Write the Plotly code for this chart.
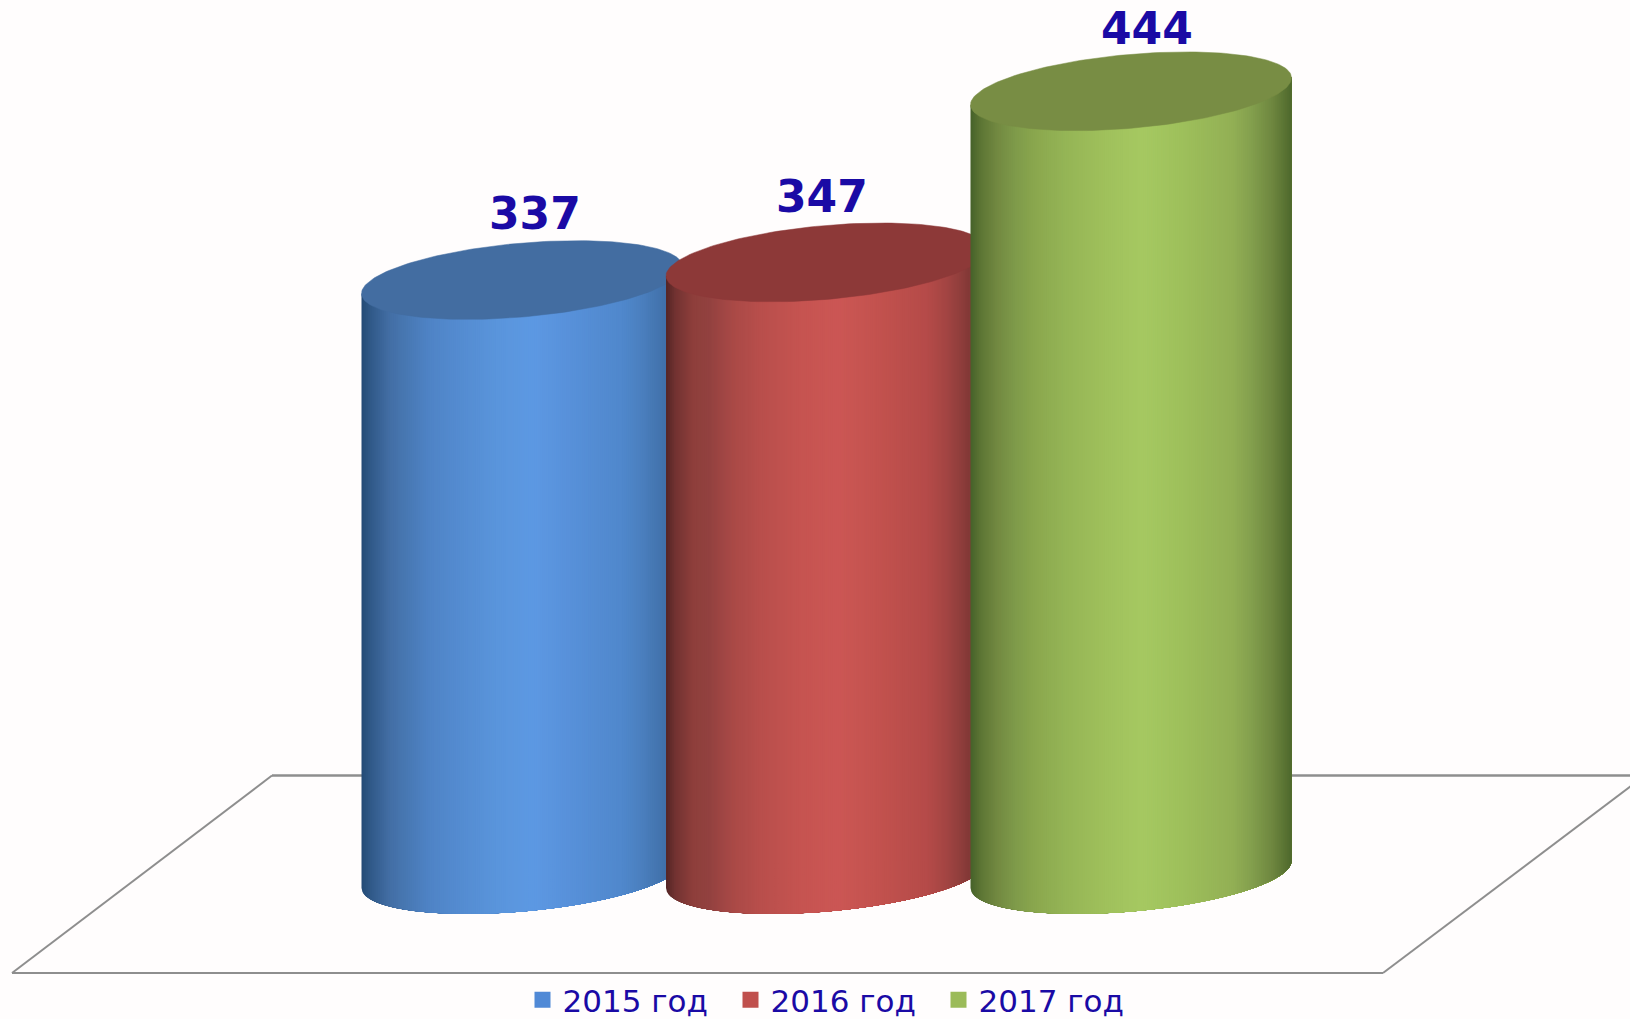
import numpy as np
import plotly.graph_objects as go

# ---- data ----
years = ["2015 год", "2016 год", "2017 год"]
values = [337, 347, 444]
value_labels = ["337", "347", "444"]

# ---- style ----
W, H = 1630, 1019
PX_PER_UNIT_Y = 1.764
PX_PER_CAT = 304.5
BASE_PX_Y = 874.5
FIRST_CAT_PX_X = 522.0
HALF_W_PX, TILT_PX, MINOR_PX = 160.5, 13.5, 37.0

side_u = [-1.0, -0.94, -0.83, -0.73, -0.58, -0.41, -0.16, 0.07, 0.3, 0.63, 0.75, 0.88, 1.0]
side_colors = [
    ["#234a76", "#315a89", "#436ea4", "#4878b2", "#4f84c6", "#548bd0", "#5a95dc", "#5d99e3", "#5891da", "#5088cc", "#4b7fbe", "#4272ab", "#3d689e"],
    ["#542525", "#733332", "#8f3f3c", "#934240", "#aa4a47", "#b94f4c", "#c65451", "#cc5755", "#c4534f", "#b54b49", "#a34543", "#853a38", "#7a3432"],
    ["#46622a", "#5c7534", "#738a42", "#7e9a4a", "#8ca94f", "#95b556", "#a0c15c", "#a6c962", "#9fc15c", "#93b055", "#84a04e", "#6f8740", "#4f692d"],
]
top_colors = ["#436da1", "#8d3938", "#788d44"]
legend_colors = ["#5089d6", "#c0504d", "#9bbb59"]
text_color = "#1a0aa5"
label_shift = [(13, 67), (-5, 66), (16, 63)]


def x_of(px):
    return (px - FIRST_CAT_PX_X) / PX_PER_CAT


def y_of(px):
    return (BASE_PX_Y - px) / PX_PER_UNIT_Y


def shade(u, i):
    rgb = [[int(c[k:k + 2], 16) for c in side_colors[i]] for k in (1, 3, 5)]
    return "rgb(%d,%d,%d)" % tuple(np.interp(u, side_u, ch) for ch in rgb)


a = HALF_W_PX / PX_PER_CAT
s = TILT_PX / PX_PER_UNIT_Y
b = MINOR_PX / PX_PER_UNIT_Y

fig = go.Figure()
edges = np.linspace(-1, 1, 161)
for i, v in enumerate(values):
    # shaded side: each strip runs on to the right edge and the next one paints over it
    for lo, hi in zip(edges[:-1], edges[1:]):
        us = np.cos(np.linspace(np.arccos(lo), 0, 30))
        xs = i + a * us
        bottom = s * us - b * np.sqrt(np.clip(1 - us ** 2, 0, 1))
        top = v + s * us
        fig.add_trace(go.Scatter(
            x=np.r_[xs, xs[::-1]], y=np.r_[bottom, top[::-1]],
            mode="lines", fill="toself", fillcolor=shade((lo + hi) / 2, i),
            line=dict(width=0), showlegend=False, hoverinfo="skip"))
    # top cap
    t = np.linspace(0, 2 * np.pi, 181)
    fig.add_trace(go.Scatter(
        x=i + a * np.cos(t), y=v + s * np.cos(t) + b * np.sin(t),
        mode="lines", fill="toself", fillcolor=top_colors[i],
        line=dict(color=top_colors[i], width=0.5), showlegend=False, hoverinfo="skip"))

# legend entries
for name, col in zip(years, legend_colors):
    fig.add_trace(go.Scatter(x=[None], y=[None], mode="markers", name=name,
                             marker=dict(symbol="square", size=18, color=col)))

# value labels
for i, (v, lab, (dx, dy)) in enumerate(zip(values, value_labels, label_shift)):
    fig.add_annotation(x=i, y=v, text=f"<b>{lab}</b>", showarrow=False,
                       xshift=dx, yshift=dy,
                       font=dict(family="DejaVu Sans", size=44, color=text_color))

# floor outline
for (x0, y0, x1, y1, lw) in [(12, 973, 1383, 973, 2), (12, 973, 272, 775.5, 2),
                             (272, 775.5, 1660, 775.5, 2.5), (1383, 973, 1645, 775.5, 2)]:
    fig.add_shape(type="line", x0=x_of(x0), y0=y_of(y0), x1=x_of(x1), y1=y_of(y1),
                  line=dict(color="#8e8e8e", width=lw), layer="below", xref="x", yref="y")

fig.update_layout(
    width=W, height=H, margin=dict(l=0, r=0, t=0, b=0, autoexpand=False),
    paper_bgcolor="#fffdfd", plot_bgcolor="rgba(0,0,0,0)",
    xaxis=dict(range=[x_of(0), x_of(W)], visible=False, fixedrange=True),
    yaxis=dict(range=[y_of(H), y_of(0)], visible=False, fixedrange=True),
    legend=dict(orientation="h", x=522.5 / W, xanchor="left", y=-0.008, yanchor="bottom",
                entrywidth=163, entrywidthmode="pixels", itemwidth=30,
                bgcolor="rgba(0,0,0,0)", tracegroupgap=0,
                font=dict(family="DejaVu Sans", size=31, color=text_color)),
)
fig.write_html("out.html", post_script="document.body.style.margin='0';",
               config={"displayModeBar": False})
